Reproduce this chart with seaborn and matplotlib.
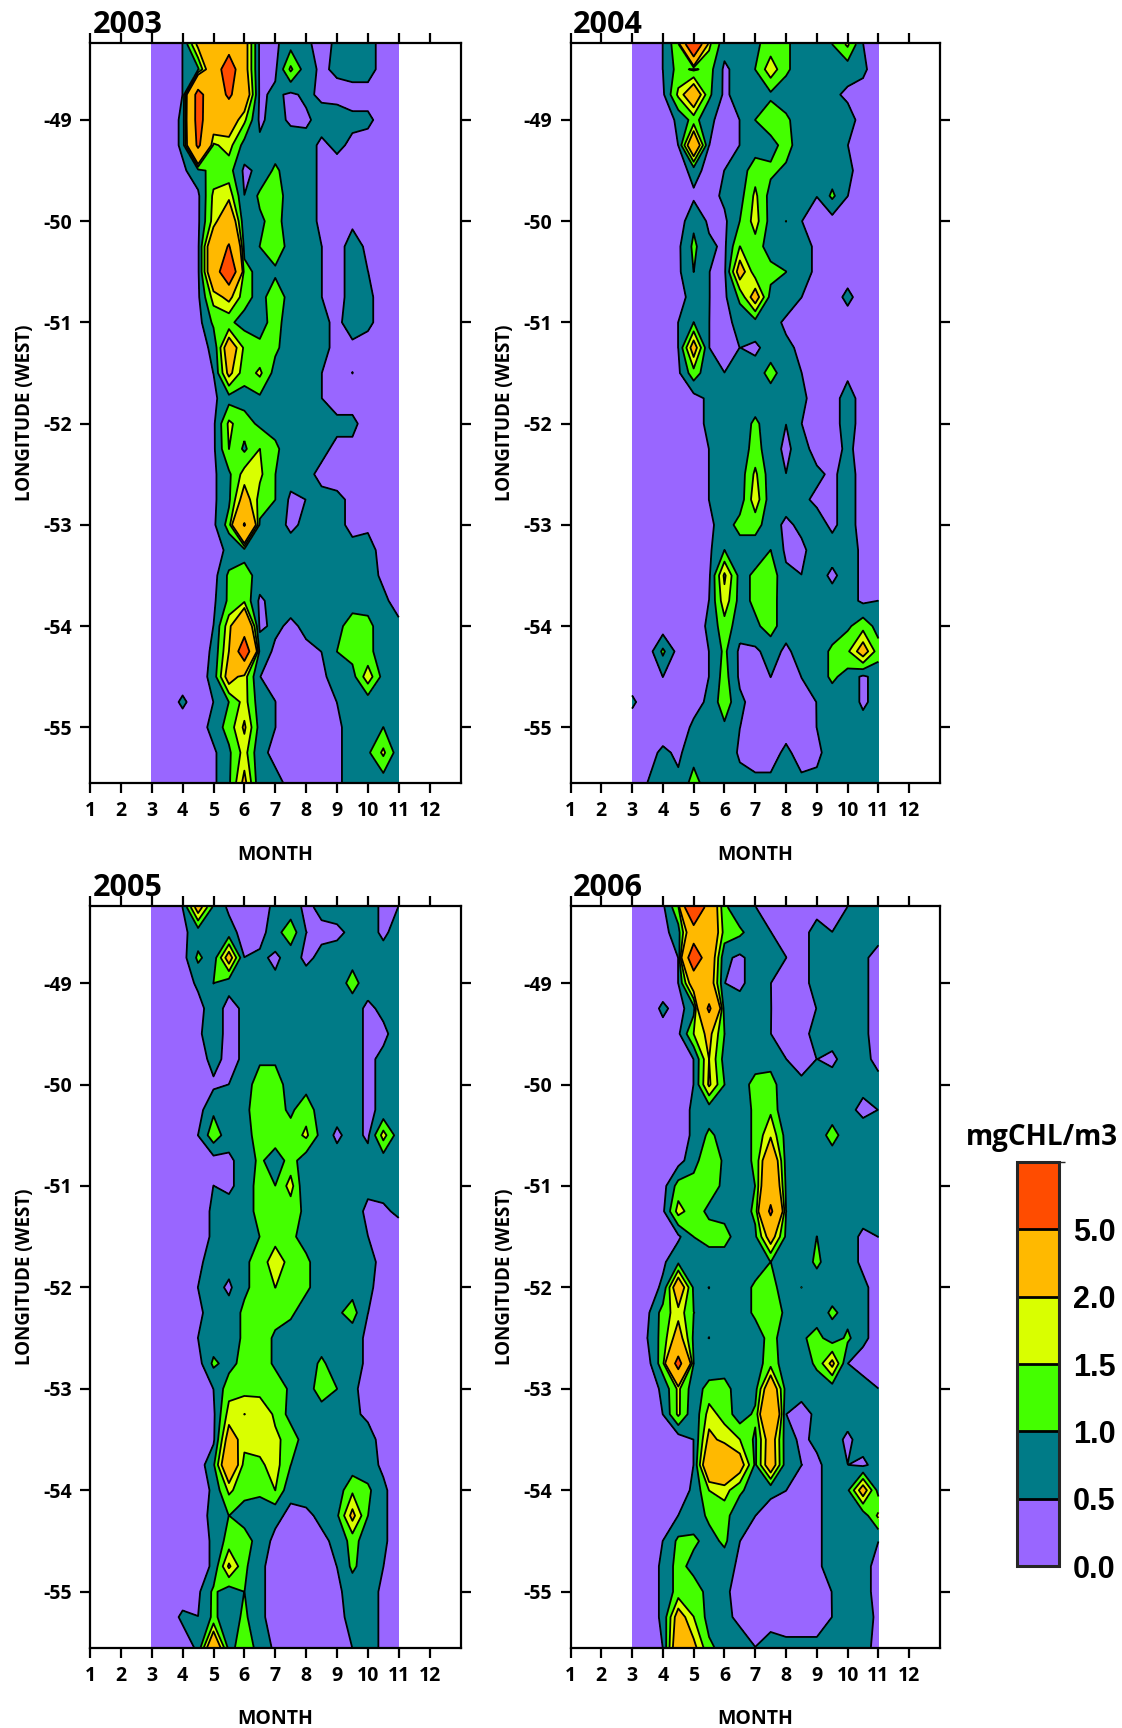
import numpy as np
import matplotlib
matplotlib.use('Agg')
import matplotlib.pyplot as plt
from matplotlib.colors import ListedColormap, BoundaryNorm
from matplotlib.colorbar import ColorbarBase
import seaborn as sns

months = [3, 3.5, 4, 4.5, 5, 5.5, 6, 6.5, 7, 7.5, 8, 8.5, 9, 9.5, 10, 10.5, 11]
longitudes = [-48.25 - 0.25 * i for i in range(29)] + [-55.55]
levels = [0, 0.5, 1, 1.5, 2, 5, 20]
level_labels = ['0.0', '0.5', '1.0', '1.5', '2.0', '5.0']
band_colors = ['#9966ff', '#007b87', '#44ff00', '#d9ff00', '#ffb900', '#ff4c00']
years = ['2003', '2004', '2005', '2006']

# values in tenths of mgCHL/m3, one row per longitude, one column per month step
chl_2003 = [
    [2,2,5,22,30,35,24,4,4,8,6,3,6,8,7,3,2],
    [2,2,5,9,30,70,24,4,4,16,7,4,6,7,7,3,2],
    [2,2,5,60,30,55,28,4,6,4,6,4,3,3,3,3,2],
    [2,2,6,60,28,26,16,4,7,4,4,7,8,6,6,3,2],
    [2,2,6,55,14,17,8,6,7,8,7,4,6,4,3,3,2],
    [2,2,4,8,12,12,4,6,11,7,7,4,3,3,3,3,2],
    [2,2,2,4,16,18,5,11,13,7,7,4,3,3,3,3,2],
    [2,2,2,4,17,30,6,9,12,7,7,4,3,4,3,3,2],
    [2,2,2,4,30,52,8,10,13,8,8,5,3,7,4,3,2],
    [2,2,2,4,30,80,12,8,9,7,7,5,3,7,5,3,2],
    [2,2,2,4,17,22,12,8,13,8,7,5,3,7,6,3,2],
    [2,2,2,3,11,11,8,8,12,7,7,6,4,7,6,3,2],
    [2,2,2,3,6,26,14,11,11,7,7,6,4,4,3,3,2],
    [2,2,2,3,5,22,12,16,8,7,7,5,3,5,3,3,2],
    [2,2,2,3,4,8,8,9,7,7,7,5,3,3,3,3,2],
    [2,2,2,3,4,16,12,9,8,8,7,5,6,6,3,3,2],
    [2,2,2,3,4,15,9,15,11,7,7,6,4,4,3,3,2],
    [2,2,2,2,4,9,17,16,10,7,6,4,3,3,3,3,2],
    [2,2,2,2,4,9,24,13,10,4,5,6,6,4,3,3,2],
    [2,2,2,2,4,12,52,9,7,4,6,7,6,4,4,3,2],
    [2,2,2,2,3,6,8,7,7,7,7,7,5,6,7,3,2],
    [2,2,2,2,3,11,12,8,7,7,7,7,5,7,7,4,2],
    [2,2,2,2,4,11,14,4,7,7,7,7,6,7,7,6,3],
    [2,2,2,2,5,18,35,4,6,4,6,7,8,13,12,6,6],
    [2,2,2,2,6,20,70,8,4,3,4,5,10,12,11,8,7],
    [2,2,2,2,7,24,17,5,4,3,3,4,7,8,18,8,7],
    [2,2,6,2,5,10,17,7,5,3,3,3,5,7,7,7,7],
    [2,2,2,2,7,12,21,8,5,3,3,3,4,7,7,10,7],
    [2,2,2,2,4,9,17,6,4,3,3,3,4,7,9,16,7],
    [2,2,2,2,4,9,22,6,6,4,3,4,4,7,9,7,7],
]
chl_2004 = [
    [2,2,5,14,90,16,7,5,9,12,11,7,7,10,16,5,2],
    [2,2,5,12,9,12,4,7,10,18,11,7,7,7,7,6,2],
    [2,2,4,16,28,11,4,7,7,9,7,7,7,6,4,3,2],
    [2,2,2,6,12,6,3,5,10,13,11,7,7,6,7,3,2],
    [2,2,2,5,30,5,3,5,7,8,12,7,7,7,5,3,2],
    [2,2,2,2,7,3,5,7,13,11,9,7,5,7,6,3,2],
    [2,2,2,2,4,3,6,8,16,8,7,7,5,11,5,3,2],
    [2,2,2,2,9,4,4,10,17,8,10,5,4,3,3,3,2],
    [2,2,2,4,11,6,4,15,13,7,8,7,4,3,3,3,2],
    [2,2,2,4,10,5,4,24,12,12,10,7,4,3,3,3,2],
    [2,2,2,3,7,5,4,11,24,8,8,5,3,3,6,3,2],
    [2,2,2,5,10,5,3,7,8,7,4,3,3,3,3,3,2],
    [2,2,2,5,24,5,3,5,4,7,6,4,3,3,3,3,2],
    [2,2,2,4,13,6,5,7,7,12,7,5,3,3,4,4,2],
    [2,2,2,2,3,6,5,7,7,7,7,6,3,3,7,3,2],
    [2,2,2,2,3,6,5,7,11,7,5,5,3,3,7,3,2],
    [2,2,2,2,2,5,7,7,12,7,4,7,3,3,6,3,2],
    [2,2,2,2,2,5,7,7,16,7,5,7,6,4,7,3,2],
    [2,2,2,2,2,5,7,7,18,7,7,6,4,4,7,3,2],
    [2,2,2,2,2,4,7,12,12,7,4,6,7,4,7,3,2],
    [2,2,2,2,2,4,10,7,7,10,4,4,7,7,7,4,2],
    [2,2,2,2,2,4,21,8,11,13,6,5,7,4,7,4,2],
    [2,2,2,2,2,5,18,8,11,12,7,7,7,7,7,4,5],
    [2,2,2,2,2,6,13,7,9,12,7,7,7,7,9,13,8],
    [2,2,11,3,2,5,11,4,4,7,4,7,7,11,14,24,12],
    [2,2,5,2,2,5,12,4,3,5,3,5,7,11,8,4,7],
    [6,2,2,2,3,6,13,6,3,3,3,4,5,7,8,4,7],
    [2,2,2,2,6,7,9,5,3,3,3,3,5,7,7,7,7],
    [2,3,6,4,8,7,9,4,3,3,6,3,4,7,7,7,7],
    [2,5,7,6,12,7,8,7,6,6,6,6,6,7,7,7,7],
]
chl_2005 = [
    [2,2,5,24,9,4,3,3,6,7,4,6,7,7,7,4,5],
    [2,2,4,7,7,7,3,3,8,13,5,4,4,6,7,4,7],
    [2,2,3,11,7,24,5,6,4,7,4,6,7,8,7,7,7],
    [2,2,2,6,10,7,7,7,6,7,7,7,7,12,7,9,7],
    [2,2,2,3,8,3,6,9,7,7,7,7,7,7,4,6,7],
    [2,2,2,4,8,3,6,8,7,7,7,7,7,7,4,4,7],
    [2,2,2,2,7,3,6,9,9,7,8,7,5,7,4,6,7],
    [2,2,2,2,4,5,7,13,13,7,8,7,7,7,4,6,7],
    [2,2,2,3,9,5,9,12,12,9,13,7,7,7,4,6,7],
    [2,2,2,5,13,7,9,11,13,12,16,8,4,7,4,17,7],
    [2,2,2,2,3,4,7,11,7,12,7,7,7,7,7,7,7],
    [2,2,2,2,5,4,7,12,10,17,5,7,7,7,6,7,7],
    [2,2,2,2,6,7,7,12,14,12,9,7,7,7,4,4,6],
    [2,2,2,2,6,8,7,10,13,11,8,7,7,7,5,3,2],
    [2,2,2,4,7,7,9,12,18,13,11,7,7,7,6,4,2],
    [2,2,2,5,7,4,9,12,15,13,11,7,7,8,6,3,2],
    [2,2,2,4,7,7,11,10,12,11,7,7,9,12,5,3,2],
    [2,2,2,5,7,7,11,13,9,7,7,7,7,7,4,3,2],
    [2,2,2,3,11,8,12,13,9,7,7,11,7,7,4,3,2],
    [2,2,2,2,5,13,13,13,13,9,7,13,10,6,3,3,2],
    [2,2,2,2,4,17,20,19,14,8,7,7,7,6,4,3,2],
    [2,2,2,2,4,24,17,17,16,13,7,7,7,7,7,3,2],
    [2,2,2,2,9,30,13,14,17,10,7,7,7,7,7,4,2],
    [2,2,2,2,6,16,12,11,15,6,7,7,7,14,11,6,2],
    [2,2,2,2,7,10,7,7,6,4,4,6,9,22,10,6,2],
    [2,2,2,2,6,12,13,7,4,3,3,4,6,12,7,6,2],
    [2,2,2,2,6,21,11,6,3,3,3,3,5,11,7,5,2],
    [2,2,2,4,11,7,10,6,3,3,3,3,4,7,7,4,2],
    [2,2,6,5,11,7,11,6,3,3,3,3,3,7,7,4,2],
    [2,2,2,6,30,8,13,8,4,3,3,3,3,5,7,4,2],
]
chl_2006 = [
    [2,2,4,14,100,30,11,6,5,4,3,3,3,3,5,7,7],
    [2,2,3,8,30,30,13,11,7,5,4,3,7,5,5,7,7],
    [2,2,2,5,75,28,6,4,7,7,5,3,7,7,7,6,3],
    [2,2,2,5,26,26,5,4,7,5,3,3,7,7,7,6,3],
    [2,2,6,3,8,55,7,7,7,5,4,4,5,5,7,6,3],
    [2,2,3,4,15,22,10,7,7,5,3,3,7,7,7,6,3],
    [2,2,2,2,5,20,8,7,7,7,5,3,5,4,7,7,3],
    [2,2,2,2,5,21,10,7,12,13,5,6,7,7,6,6,7],
    [2,2,2,2,6,7,7,7,11,14,5,7,7,7,6,4,5],
    [2,2,2,2,6,11,8,7,11,19,8,7,7,12,7,7,7],
    [2,2,2,3,8,14,9,7,11,30,8,7,7,7,7,6,7],
    [2,2,3,12,12,12,9,7,10,35,9,7,7,7,7,7,7],
    [2,2,4,17,12,9,8,7,11,55,10,7,7,7,7,7,6],
    [2,2,2,4,10,12,12,7,9,24,9,7,10,7,7,4,5],
    [2,2,4,9,6,7,7,7,7,10,7,7,11,7,7,4,3],
    [2,2,6,27,9,10,7,7,11,12,7,10,7,7,7,6,3],
    [2,4,12,18,10,9,7,7,11,13,9,7,7,11,8,6,3],
    [2,5,12,24,9,10,7,7,7,12,7,9,12,7,11,6,3],
    [2,3,13,60,10,6,7,7,7,13,7,7,11,22,5,3,2],
    [2,2,6,16,7,12,12,7,8,28,8,7,7,7,7,7,5],
    [2,2,5,16,6,17,13,7,11,40,5,3,6,7,7,7,7],
    [2,2,2,2,5,22,18,15,9,25,7,4,6,7,4,7,5],
    [2,2,2,2,5,30,32,24,9,26,7,5,4,7,5,4,7],
    [2,2,2,2,6,15,17,11,7,6,5,3,4,7,9,24,8],
    [2,2,2,5,7,11,12,6,5,3,3,3,4,7,7,7,16],
    [2,2,5,11,11,8,11,5,3,3,3,3,4,7,7,7,5],
    [2,2,6,12,8,7,7,4,3,3,3,3,4,7,7,7,3],
    [2,2,6,12,13,8,6,3,3,3,3,3,4,5,7,7,3],
    [2,2,6,24,15,8,6,4,3,3,3,3,3,5,7,7,4],
    [2,2,5,28,22,11,8,7,5,7,6,6,6,7,7,7,3],
]
panels = [chl_2003, chl_2004, chl_2005, chl_2006]

sns.set_theme(style='ticks')
plt.rcParams['font.family'] = ['Open Sans', 'DejaVu Sans']
plt.rcParams['font.weight'] = 'bold'
plt.rcParams['axes.unicode_minus'] = False

W, H = 1122, 1728
fig = plt.figure(figsize=(W / 100, H / 100), dpi=100)
palette = sns.color_palette(band_colors)

# pixel boxes of the panels (left, top, right, bottom)
boxes = [(90, 43, 460.5, 783), (570.5, 43, 940, 783),
         (90, 906, 460.5, 1647.5), (570.5, 906, 940, 1647.5)]

# levels sit a hair under the read values, values equal to a level draw stray lines
draw_levels = [lv - 0.004 for lv in levels]
draw_levels[0] = 0

for year, chl, box in zip(years, panels, boxes):
    ax = fig.add_axes([box[0] / W, 1 - box[3] / H, (box[2] - box[0]) / W, (box[3] - box[1]) / H])
    z = np.array(chl) / 10
    ax.contourf(months, longitudes, z, levels=draw_levels, colors=palette)
    ax.contour(months, longitudes, z, levels=draw_levels[1:-1], colors='black', linewidths=1.3)
    ax.set_xlim(1, 13)
    ax.set_ylim(-55.55, -48.24)
    ax.set_xticks(range(1, 13))
    ax.set_yticks(range(-55, -48))
    ax.tick_params(top=True, right=True, direction='out', length=7, width=1.6,
                   labelsize=14, pad=6, color='black', labelcolor='black')
    for spine in ax.spines.values():
        spine.set_linewidth(1.6)
        spine.set_color('black')
        spine.set_zorder(5)
    ax.set_xlabel('MONTH', fontsize=14, fontweight='bold', labelpad=17, color='black')
    ax.set_ylabel('LONGITUDE (WEST)', fontsize=13.5, fontweight='bold', labelpad=6, color='black')
    ax.text(0.007, 1.014, year, transform=ax.transAxes, fontsize=22, fontweight='bold', color='black')

# colour key
cax = fig.add_axes([1017 / W, 1 - 1566 / H, 42 / W, 404 / H])
cb = ColorbarBase(cax, cmap=ListedColormap(band_colors), norm=BoundaryNorm(levels, 6),
                  spacing='uniform', ticks=levels[:-1], drawedges=True)
cb.ax.set_yticklabels(level_labels, fontsize=22, fontweight='bold', color='black')
for t in cb.ax.get_yticklabels():
    t.set_fontfamily('Liberation Sans')
cb.ax.tick_params(length=0, pad=10)
cb.outline.set_linewidth(2.2)
cb.dividers.set_linewidth(2)
cb.dividers.set_color('black')
fig.text(1042 / W, 1 - 1138 / H, 'mgCHL/m3', ha='center', va='center', fontsize=20,
         fontweight='bold', color='black')

fig.savefig('out.png', dpi=100)
